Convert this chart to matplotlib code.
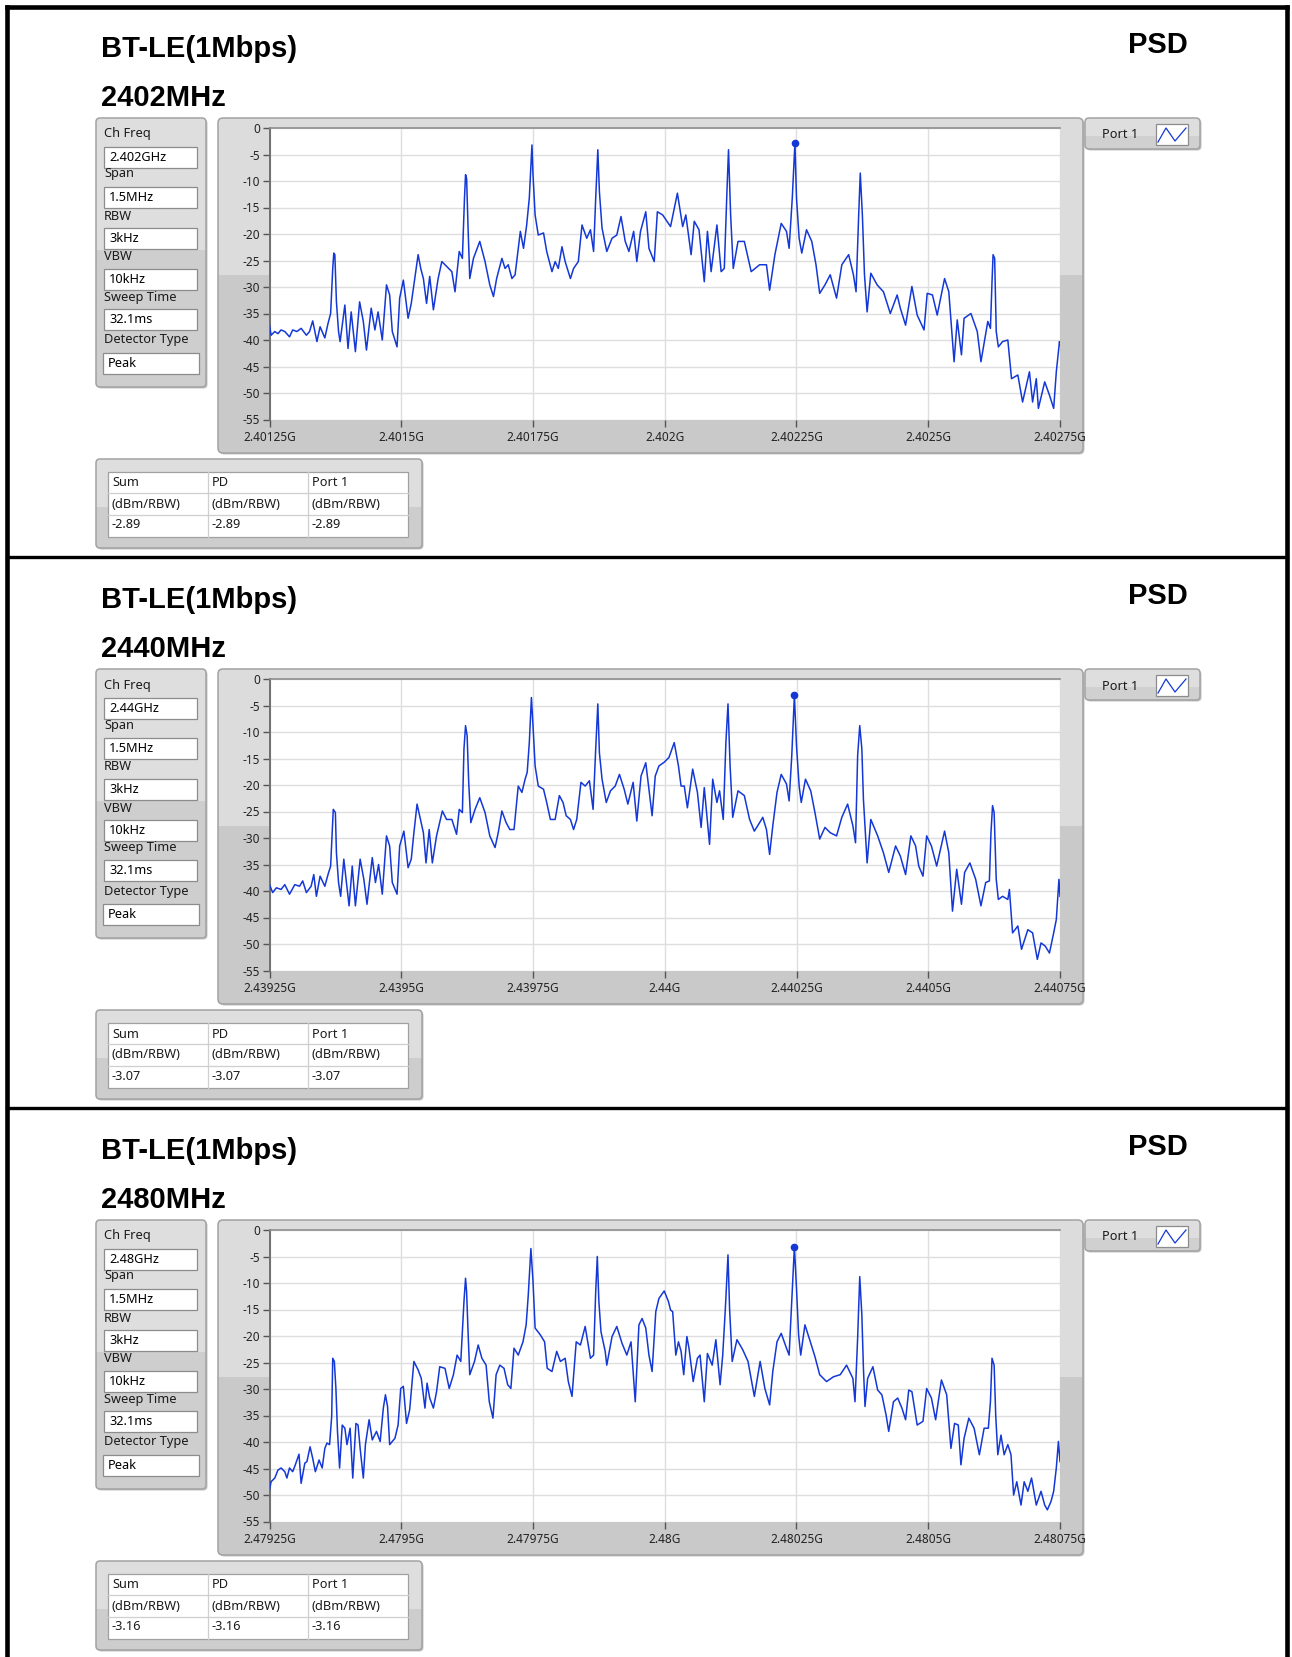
import matplotlib
matplotlib.use("Agg")
import matplotlib.pyplot as plt
from matplotlib.patches import FancyBboxPatch, Rectangle
import numpy as np

plt.rcParams['font.family'] = ['Noto Sans', 'DejaVu Sans']
plt.rcParams['axes.unicode_minus'] = False

W, H, DPI = 1292, 1657, 100

# ---------------- data ----------------
STANDARD = "BT-LE(1Mbps)"
MEAS = "PSD"
CHANNEL_LABELS = ["2402MHz", "2440MHz", "2480MHz"]
CENTER_GHZ = [2.402, 2.440, 2.480]
CH_FREQ_TEXT = ["2.402GHz", "2.44GHz", "2.48GHz"]
SETTING_NAMES = ["Ch Freq", "Span", "RBW", "VBW", "Sweep Time", "Detector Type"]
SETTING_VALUES = ["1.5MHz", "3kHz", "10kHz", "32.1ms", "Peak"]
XTICK_OFFSETS_KHZ = [-750, -500, -250, 0, 250, 500, 750]
XTICK_LABELS = [
    ["2.40125G", "2.4015G", "2.40175G", "2.402G", "2.40225G", "2.4025G", "2.40275G"],
    ["2.43925G", "2.4395G", "2.43975G", "2.44G", "2.44025G", "2.4405G", "2.44075G"],
    ["2.47925G", "2.4795G", "2.47975G", "2.48G", "2.48025G", "2.4805G", "2.48075G"],
]
YTICKS = [0, -5, -10, -15, -20, -25, -30, -35, -40, -45, -50, -55]
TABLE_HEADERS = ["Sum", "PD", "Port 1"]
TABLE_UNIT = "(dBm/RBW)"
PEAK_VALUES = ["-2.89", "-3.07", "-3.16"]
LEGEND_LABEL = "Port 1"

# trace: (offset from centre in kHz, level in dBm)
TRACE_2402 = [
    (-750, -37.2), (-747, -39.1), (-740, -38.4), (-734, -38.8), (-728, -38.1), (-721, -38.4), (-712, -39.4),
    (-706, -38.1), (-698, -38.4), (-690, -37.8), (-680, -39.1), (-674, -38.4), (-668, -36.4), (-660, -40.3),
    (-654, -37.5), (-645, -39.6), (-639, -36.9), (-634, -35.0), (-630, -26.5), (-628, -23.6), (-626, -23.9),
    (-623, -32.8), (-619, -38.4), (-616, -40.3), (-607, -33.4), (-601, -41.6), (-595, -34.7), (-587, -42.2),
    (-579, -32.8), (-572, -36.5), (-566, -41.9), (-557, -34.0), (-550, -38.1), (-544, -34.7), (-536, -40.0),
    (-528, -29.6), (-522, -31.5), (-517, -38.4), (-508, -41.3), (-503, -32.1), (-496, -28.7), (-487, -35.9),
    (-481, -33.1), (-476, -29.6), (-468, -23.9), (-463, -26.5), (-458, -28.4), (-452, -33.1), (-446, -28.0),
    (-439, -34.3), (-430, -28.4), (-423, -25.2), (-414, -26.1), (-404, -27.1), (-398, -30.9), (-390, -23.3),
    (-384, -24.6), (-380, -13.2), (-378, -8.8), (-376, -9.5), (-373, -19.5), (-370, -28.4), (-363, -24.6),
    (-351, -21.4), (-341, -25.2), (-332, -29.6), (-325, -31.8), (-319, -28.4), (-309, -24.6), (-303, -26.5),
    (-297, -25.8), (-290, -28.4), (-284, -27.7), (-274, -19.5), (-268, -22.7), (-262, -18.3), (-257, -13.2),
    (-252, -3.2), (-250, -8.8), (-246, -16.4), (-240, -20.2), (-230, -19.8), (-224, -23.3), (-214, -27.1),
    (-208, -25.2), (-202, -26.5), (-195, -22.4), (-189, -25.2), (-179, -28.4), (-173, -26.5), (-164, -25.2),
    (-157, -18.3), (-148, -20.8), (-141, -19.2), (-135, -23.3), (-131, -13.2), (-127, -4.1), (-124, -12.0),
    (-119, -18.9), (-110, -23.3), (-100, -20.8), (-91, -20.2), (-83, -16.7), (-75, -21.4), (-68, -23.3),
    (-59, -19.5), (-53, -25.2), (-46, -19.5), (-36, -15.8), (-30, -22.7), (-20, -25.2), (-14, -15.8),
    (-4, -16.4), (11, -18.6), (24, -12.3), (34, -18.6), (40, -16.4), (50, -23.9), (56, -17.6), (65, -19.2),
    (75, -29.0), (81, -19.5), (88, -27.1), (99, -18.3), (107, -27.1), (113, -26.5), (118, -12.0), (121, -4.1),
    (125, -16.4), (130, -26.5), (139, -21.4), (151, -21.4), (164, -27.1), (180, -25.8), (193, -25.8),
    (199, -30.6), (209, -23.9), (221, -18.0), (231, -19.5), (236, -22.7), (242, -13.2), (247, -2.89),
    (250, -13.2), (255, -20.8), (260, -23.6), (269, -19.2), (279, -21.4), (287, -25.8), (294, -31.2),
    (304, -29.6), (314, -27.7), (326, -32.1), (336, -25.8), (349, -23.9), (358, -27.7), (363, -30.9),
    (368, -16.4), (371, -8.5), (375, -16.4), (379, -27.7), (384, -34.7), (391, -27.4), (403, -29.6),
    (415, -30.9), (428, -35.0), (441, -31.5), (447, -34.0), (457, -37.2), (469, -29.9), (479, -35.3),
    (492, -38.1), (498, -31.2), (508, -31.5), (517, -35.3), (531, -28.4), (539, -30.9), (549, -44.1),
    (555, -36.2), (563, -42.8), (568, -35.9), (581, -35.0), (593, -38.4), (600, -44.1), (613, -36.5),
    (618, -37.8), (621, -29.0), (623, -23.9), (626, -24.6), (629, -38.4), (633, -41.3), (641, -40.3),
    (651, -40.0), (658, -47.3), (670, -46.6), (679, -51.7), (692, -46.0), (698, -51.7), (705, -47.3),
    (709, -52.9), (721, -47.9), (730, -50.4), (738, -52.9), (743, -46.0), (749, -40.3), (750, -41.0),
]

TRACE_2440 = [
    (-750, -38.8), (-744, -40.3), (-737, -39.4), (-728, -39.7), (-721, -38.8), (-712, -40.6), (-702, -38.8),
    (-693, -39.1), (-687, -38.1), (-680, -40.3), (-671, -39.1), (-666, -36.9), (-661, -41.0), (-654, -37.2),
    (-645, -39.1), (-639, -36.9), (-634, -35.3), (-629, -24.6), (-625, -25.2), (-623, -32.8), (-619, -38.4),
    (-615, -41.0), (-609, -34.0), (-599, -42.8), (-593, -35.3), (-587, -42.8), (-578, -34.0), (-571, -37.8),
    (-565, -42.5), (-555, -33.7), (-549, -38.4), (-543, -35.0), (-536, -40.6), (-528, -29.6), (-522, -31.5),
    (-517, -38.4), (-508, -40.6), (-503, -31.5), (-495, -28.7), (-487, -35.6), (-481, -34.0), (-476, -29.0),
    (-470, -23.6), (-463, -26.8), (-458, -29.0), (-453, -34.7), (-447, -28.4), (-441, -34.7), (-433, -29.6),
    (-422, -24.9), (-414, -26.5), (-404, -26.5), (-395, -29.3), (-390, -24.6), (-384, -25.2), (-381, -13.2),
    (-378, -8.8), (-375, -10.7), (-372, -19.5), (-368, -27.1), (-360, -24.6), (-351, -22.4), (-341, -25.2),
    (-332, -29.6), (-322, -31.8), (-316, -29.0), (-309, -24.9), (-301, -27.1), (-294, -28.4), (-286, -28.4),
    (-278, -20.2), (-271, -21.4), (-265, -18.9), (-261, -17.6), (-257, -12.0), (-253, -3.5), (-250, -8.8),
    (-246, -16.4), (-240, -20.2), (-230, -20.8), (-224, -23.3), (-217, -26.5), (-208, -26.5), (-200, -22.0),
    (-193, -23.3), (-187, -25.8), (-179, -26.5), (-173, -28.4), (-167, -26.5), (-159, -19.5), (-151, -20.2),
    (-143, -19.2), (-136, -24.6), (-131, -13.2), (-127, -4.7), (-124, -13.9), (-119, -18.9), (-111, -23.3),
    (-103, -21.1), (-94, -20.2), (-86, -18.0), (-77, -20.8), (-70, -23.6), (-60, -19.5), (-53, -26.8),
    (-45, -18.3), (-36, -15.8), (-30, -20.8), (-24, -25.8), (-18, -18.3), (-11, -16.4), (-1, -15.7),
    (8, -14.8), (18, -12.0), (26, -16.4), (31, -20.2), (37, -20.2), (43, -24.3), (53, -17.0), (62, -21.4),
    (69, -28.0), (75, -20.5), (85, -31.2), (91, -18.9), (99, -23.3), (104, -21.1), (111, -26.5), (116, -12.0),
    (120, -4.7), (124, -16.4), (129, -26.1), (139, -21.1), (151, -22.0), (161, -26.5), (170, -28.7),
    (180, -27.1), (186, -26.1), (193, -28.4), (199, -33.1), (205, -27.7), (213, -21.4), (221, -18.0),
    (231, -19.8), (236, -23.0), (241, -14.5), (246, -3.07), (250, -12.6), (255, -20.2), (259, -23.3),
    (267, -18.9), (277, -21.1), (285, -25.2), (294, -30.2), (304, -28.0), (314, -29.0), (326, -29.6),
    (336, -26.1), (347, -23.6), (357, -27.7), (362, -30.9), (366, -14.5), (370, -8.8), (374, -13.2),
    (377, -22.7), (380, -27.7), (384, -34.7), (391, -26.5), (404, -29.6), (415, -32.8), (425, -36.5),
    (438, -31.5), (447, -33.4), (457, -36.9), (467, -29.6), (476, -31.5), (482, -35.3), (490, -37.2),
    (497, -29.6), (506, -31.5), (516, -35.3), (531, -28.7), (539, -32.8), (546, -43.8), (554, -35.9),
    (563, -42.5), (569, -36.5), (579, -34.7), (590, -37.8), (600, -42.8), (609, -38.4), (616, -38.1),
    (619, -29.0), (622, -23.9), (625, -25.2), (629, -37.8), (633, -41.6), (641, -41.0), (651, -41.6),
    (654, -39.7), (660, -47.9), (670, -46.6), (677, -51.0), (689, -47.3), (698, -47.9), (707, -52.9),
    (714, -49.8), (722, -50.4), (730, -51.7), (738, -47.9), (743, -45.4), (748, -37.8), (750, -41.0),
]

TRACE_2480 = [
    (-750, -49.0), (-747, -47.5), (-740, -46.8), (-734, -45.3), (-728, -44.9), (-721, -45.6), (-717, -46.8),
    (-712, -44.9), (-706, -45.6), (-701, -44.3), (-694, -42.3), (-690, -47.8), (-683, -44.0), (-679, -43.7),
    (-673, -40.9), (-668, -43.1), (-663, -45.6), (-656, -43.4), (-650, -44.9), (-645, -41.2), (-641, -40.2),
    (-636, -40.5), (-632, -35.2), (-630, -24.2), (-627, -24.8), (-624, -29.9), (-621, -38.0), (-617, -44.9),
    (-612, -36.8), (-607, -37.4), (-603, -40.5), (-597, -37.4), (-592, -46.8), (-586, -36.5), (-582, -36.8),
    (-578, -41.2), (-572, -46.8), (-568, -40.5), (-561, -35.8), (-555, -39.6), (-547, -38.0), (-540, -39.9),
    (-534, -33.6), (-530, -31.1), (-526, -33.3), (-522, -40.5), (-512, -39.3), (-506, -36.8), (-501, -29.9),
    (-496, -29.5), (-490, -36.5), (-484, -33.9), (-476, -24.8), (-468, -26.4), (-462, -28.0), (-455, -33.6),
    (-451, -28.9), (-446, -31.7), (-439, -33.6), (-433, -30.5), (-427, -25.8), (-417, -26.1), (-409, -29.9),
    (-401, -27.3), (-394, -23.6), (-387, -24.8), (-381, -13.5), (-378, -9.1), (-376, -11.6), (-373, -19.8),
    (-370, -27.3), (-361, -24.8), (-354, -21.7), (-347, -24.2), (-339, -25.5), (-333, -32.4), (-326, -35.5),
    (-320, -27.3), (-313, -25.5), (-305, -26.1), (-298, -29.2), (-292, -29.9), (-286, -22.3), (-278, -23.6),
    (-269, -21.1), (-263, -17.9), (-259, -12.3), (-254, -3.5), (-250, -9.7), (-246, -18.5), (-236, -19.8),
    (-228, -21.1), (-223, -26.1), (-214, -26.7), (-205, -22.9), (-198, -24.8), (-189, -24.2), (-183, -28.6),
    (-176, -31.4), (-168, -21.1), (-160, -21.7), (-151, -18.2), (-141, -24.2), (-135, -23.6), (-131, -11.6),
    (-128, -5.0), (-125, -13.5), (-121, -19.2), (-113, -22.9), (-110, -25.5), (-100, -20.1), (-91, -18.2),
    (-81, -21.4), (-72, -23.6), (-64, -21.1), (-56, -32.4), (-49, -17.9), (-43, -16.7), (-36, -18.5),
    (-30, -23.6), (-24, -26.7), (-17, -15.4), (-11, -12.9), (-1, -11.5), (7, -13.5), (11, -15.1), (15, -15.4),
    (21, -23.6), (26, -21.1), (31, -22.9), (36, -27.3), (42, -20.1), (46, -22.3), (54, -28.6), (62, -24.2),
    (67, -23.6), (75, -32.4), (81, -23.3), (90, -25.5), (97, -20.7), (105, -29.2), (110, -23.6), (115, -14.8),
    (120, -4.7), (123, -14.8), (128, -24.8), (137, -20.7), (148, -22.6), (158, -24.8), (170, -31.4),
    (181, -24.8), (190, -29.9), (199, -33.0), (205, -26.7), (213, -21.1), (221, -19.5), (231, -22.3),
    (236, -23.6), (241, -13.5), (246, -3.16), (250, -11.0), (254, -19.8), (258, -23.6), (266, -17.9),
    (275, -20.7), (285, -23.9), (294, -27.3), (307, -28.6), (320, -27.7), (333, -27.3), (345, -25.5),
    (357, -28.0), (361, -32.4), (366, -20.4), (370, -8.8), (374, -16.0), (377, -26.1), (380, -33.3),
    (385, -28.0), (395, -25.8), (404, -30.2), (412, -31.1), (420, -34.9), (425, -38.0), (434, -32.4),
    (442, -31.7), (450, -33.6), (457, -35.8), (463, -30.2), (469, -30.5), (479, -36.8), (490, -36.1),
    (497, -29.9), (506, -31.7), (514, -35.8), (525, -28.3), (535, -31.1), (543, -41.2), (550, -36.5),
    (557, -36.8), (562, -44.3), (568, -39.3), (577, -35.5), (587, -37.4), (597, -42.4), (606, -37.4),
    (614, -37.4), (618, -32.4), (621, -24.2), (625, -25.5), (628, -34.9), (632, -42.4), (638, -38.7),
    (644, -42.4), (651, -40.5), (657, -42.4), (662, -50.0), (668, -47.5), (676, -51.9), (682, -47.5),
    (689, -49.3), (696, -46.8), (705, -51.9), (714, -49.3), (721, -51.9), (726, -52.8), (733, -51.2),
    (738, -49.3), (743, -44.9), (747, -39.9), (750, -43.7),
]
TRACES = [TRACE_2402, TRACE_2440, TRACE_2480]

# ---------------- style / layout ----------------
TRACE_COLOR = "#1438d6"
PANEL_DY = [0, 551, 1102]
SMALL = 9.2
TITLE_FONT = ["Liberation Sans", "DejaVu Sans"]
TITLE_SIZE = 21

fig = plt.figure(figsize=(W / DPI, H / DPI), dpi=DPI)
fig.patch.set_facecolor("white")
bg = fig.add_axes([0, 0, 1, 1])
bg.set_xlim(0, W)
bg.set_ylim(H, 0)
bg.axis("off")


def box(x0, y0, x1, y1, split, top_c, bot_c, edge="#a2a2a2", r=4, lw=1.1, shadow=True, z=1):
    if shadow:
        bg.add_patch(FancyBboxPatch((x0 + 1.5, y0 + 1.5), x1 - x0, y1 - y0,
                                    boxstyle=f"round,pad=0,rounding_size={r}",
                                    fc="#c4c4c4", ec="none", zorder=z - 0.2))
    base = FancyBboxPatch((x0, y0), x1 - x0, y1 - y0, boxstyle=f"round,pad=0,rounding_size={r}",
                          fc=top_c, ec="none", zorder=z)
    bg.add_patch(base)
    if split is not None:
        low = Rectangle((x0, split), x1 - x0, y1 - split, fc=bot_c, ec="none", zorder=z + 0.05)
        bg.add_patch(low)
        low.set_clip_path(base)
    bg.add_patch(FancyBboxPatch((x0, y0), x1 - x0, y1 - y0, boxstyle=f"round,pad=0,rounding_size={r}",
                                fc="none", ec=edge, lw=lw, zorder=z + 0.1))


def px_text(x, y, s, **kw):
    kw.setdefault("fontsize", SMALL)
    kw.setdefault("color", "#1a1a1a")
    kw.setdefault("va", "center")
    kw.setdefault("ha", "left")
    bg.text(x, y, s, zorder=4, **kw)


# outer border and separators
bw = 3.3
bg.plot([6.7, 6.7], [H + 10, 6.7], color="black", lw=bw, solid_capstyle="projecting", zorder=10)
bg.plot([6.7, 1286.5], [6.7, 6.7], color="black", lw=bw, solid_capstyle="projecting", zorder=10)
bg.plot([1286.5, 1286.5], [6.7, H + 10], color="black", lw=bw, solid_capstyle="projecting", zorder=10)
for ysep in (556.8, 1107.8):
    bg.plot([6.7, 1286.5], [ysep, ysep], color="black", lw=2.4, zorder=10)

for k in range(3):
    dy = PANEL_DY[k]
    c = CENTER_GHZ[k]

    # titles
    px_text(101, 57 + dy, STANDARD, fontsize=TITLE_SIZE, fontweight="bold", color="black",
            va="baseline", family=TITLE_FONT)
    px_text(101, 106 + dy, CHANNEL_LABELS[k], fontsize=TITLE_SIZE, fontweight="bold", color="black",
            va="baseline", family=TITLE_FONT)
    px_text(1188, 53 + dy, MEAS, fontsize=TITLE_SIZE, fontweight="bold", color="black", va="baseline",
            ha="right", family=TITLE_FONT)

    # settings box
    box(96, 118 + dy, 206, 387 + dy, 250 + dy, "#dedede", "#cecece")
    values = [CH_FREQ_TEXT[k]] + SETTING_VALUES
    label_y = [134, 174, 216, 257, 297, 340]
    box_top = [147, 187, 228, 269, 309, 353]
    for i, (name, val) in enumerate(zip(SETTING_NAMES, values)):
        px_text(104, label_y[i] + dy, name)
        bx0, bx1 = (104, 197) if i < 5 else (103, 199)
        bg.add_patch(Rectangle((bx0, box_top[i] + dy), bx1 - bx0, 21, fc="white", ec="#8c8c8c",
                               lw=0.9, zorder=3))
        px_text(bx0 + 5, box_top[i] + dy + 10.5, val, color="black")

    # graph frame
    box(218, 118 + dy, 1083, 453 + dy, 275 + dy, "#dcdcdc", "#c9c9c9", r=5)

    # legend
    box(1085, 118 + dy, 1200, 149 + dy, 136 + dy, "#dedede", "#d0d0d0", r=4)
    px_text(1102, 135 + dy, LEGEND_LABEL)
    bg.add_patch(Rectangle((1156, 124 + dy), 32, 21, fc="white", ec="#8c8c8c", lw=0.9, zorder=3))
    bg.plot([1158, 1166, 1175, 1186], [142 + dy, 128 + dy, 141 + dy, 128 + dy], color=TRACE_COLOR,
            lw=0.9, zorder=4)

    # table
    box(96, 459 + dy, 422, 548 + dy, 507 + dy, "#dedede", "#cdcdcd", r=4)
    bg.add_patch(Rectangle((108, 472 + dy), 300, 65, fc="white", ec="#a0a0a0", lw=0.9, zorder=3))
    for xc in (208, 308):
        bg.plot([xc, xc], [472 + dy, 537 + dy], color="#cfcfcf", lw=0.9, zorder=3.5)
    for yr in (493, 515):
        bg.plot([108, 408], [yr + dy, yr + dy], color="#cfcfcf", lw=0.9, zorder=3.5)
    for j, col_x in enumerate((112, 212, 312)):
        px_text(col_x, 483 + dy, TABLE_HEADERS[j])
        px_text(col_x, 504 + dy, TABLE_UNIT)
        px_text(col_x, 525 + dy, PEAK_VALUES[k])

    # plot axes
    x0, x1, y0, y1 = 269.5, 1060.0, 128.0 + dy, 419.5 + dy
    ax = fig.add_axes([x0 / W, 1 - y1 / H, (x1 - x0) / W, (y1 - y0) / H])
    ax.set_facecolor("white")
    off = np.array([p[0] for p in TRACES[k]], dtype=float)
    lev = np.array([p[1] for p in TRACES[k]], dtype=float)
    freq = c + off / 1e6
    ax.plot(freq, lev, color=TRACE_COLOR, lw=1.1, zorder=3)
    ip = int(np.argmax(lev))
    ax.plot([freq[ip]], [lev[ip]], "o", ms=4.5, color=TRACE_COLOR, zorder=4)
    ax.set_xlim(c - 0.00075, c + 0.00075)
    ax.set_ylim(-55, 0)
    ax.set_xticks([c + o / 1e6 for o in XTICK_OFFSETS_KHZ])
    ax.set_xticklabels(XTICK_LABELS[k])
    ax.set_yticks(YTICKS)
    ax.set_yticklabels([str(v) for v in YTICKS])
    ax.tick_params(axis="both", direction="out", length=5, width=1, color="#555555",
                   labelsize=8.5, labelcolor="#222222")
    ax.tick_params(axis="y", pad=2)
    ax.tick_params(axis="x", pad=3)
    ax.grid(True, color="#dedede", lw=1.0, zorder=0)
    ax.set_axisbelow(True)
    for side in ("right", "bottom"):
        ax.spines[side].set_visible(False)
    ax.spines["left"].set_color("#707070")
    ax.spines["left"].set_linewidth(1.4)
    ax.spines["top"].set_color("#8e8e8e")
    ax.spines["top"].set_linewidth(1.2)

fig.savefig("out.png", dpi=DPI, facecolor="white")
